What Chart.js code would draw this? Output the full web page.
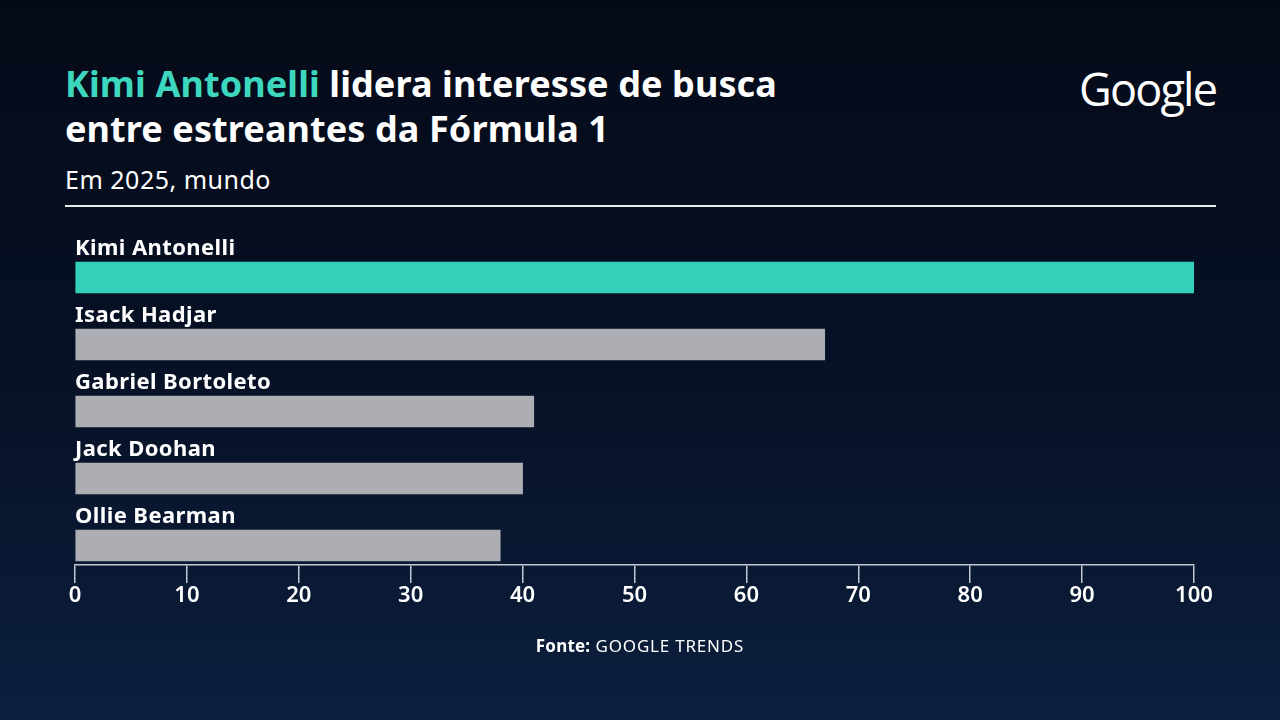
<!DOCTYPE html>
<html lang="pt-BR">
<head>
<meta charset="utf-8">
<title>Estreantes da Fórmula 1</title>
<script src="https://cdn.jsdelivr.net/npm/chart.js@4.4.1/dist/chart.umd.min.js"></script>
<style>
  html, body { margin: 0; padding: 0; }
  body {
    width: 1280px; height: 720px; overflow: hidden; position: relative;
    background: linear-gradient(180deg, #050a17 0%, #071227 55%, #0c1f3e 100%);
    font-family: "Noto Sans", sans-serif; color: #fff;
  }
  .title {
    position: absolute; left: 65px; top: 61px; margin: 0;
    font-size: 36px; font-weight: 700; line-height: 45px; letter-spacing: 0.1px;
  }
  .title .hl { color: #3dd7bf; }
  .subtitle { position: absolute; left: 65px; top: 162px; font-size: 25px; letter-spacing: 0.5px; }
  .rule { position: absolute; left: 65px; top: 205px; width: 1151px; height: 1.5px; background: #e6e8ec; }
  .logo {
    position: absolute; left: 1079px; top: 58px; font-family: "Open Sans", sans-serif;
    font-size: 45px; font-weight: 500; letter-spacing: -1.8px;
  }
  .source { position: absolute; left: 0; width: 1280px; top: 634px; text-align: center; font-size: 17px; letter-spacing: 0.8px; }
  .source b { font-weight: 700; letter-spacing: 0.2px; }
  #chart { position: absolute; left: 0; top: 0; }
</style>
</head>
<body>
<h1 class="title"><span class="hl">Kimi Antonelli</span> lidera interesse de busca<br>entre estreantes da Fórmula 1</h1>
<div class="subtitle">Em 2025, mundo</div>
<div class="rule"></div>
<div class="logo">Google</div>
<canvas id="chart" width="1280" height="720"></canvas>
<div class="source"><b>Fonte:</b> GOOGLE TRENDS</div>

<script>
// valores de interesse (Google Trends, 2025)
const drivers = ['Kimi Antonelli', 'Isack Hadjar', 'Gabriel Bortoleto', 'Jack Doohan', 'Ollie Bearman'];
const interest = [100, 67, 41, 40, 38];
const barColors = ['#33d1b9', '#adaeb3', '#adaeb3', '#adaeb3', '#adaeb3'];
const xTicks = [0, 10, 20, 30, 40, 50, 60, 70, 80, 90, 100];

// nome do piloto acima de cada barra
const nameLabels = {
    id: 'nameLabels',
    afterDatasetsDraw(chart) {
        const ctx = chart.ctx;
        const meta = chart.getDatasetMeta(0);
        ctx.save();
        ctx.fillStyle = '#ffffff';
        ctx.font = '700 22px "Noto Sans", sans-serif';
        ctx.letterSpacing = '0.4px';
        ctx.textAlign = 'left';
        ctx.textBaseline = 'middle';
        meta.data.forEach((bar, i) => {
            const top = bar.y - bar.height / 2;
            ctx.fillText(drivers[i], chart.chartArea.left, top - 13);
        });
        ctx.restore();
    }
};

new Chart(document.getElementById('chart'), {
    type: 'bar',
    data: {
        datasets: [{
            data: interest.map((v, i) => ({ x: v, y: i })),
            backgroundColor: barColors,
            borderWidth: 0,
            barThickness: 31
        }]
    },
    options: {
        indexAxis: 'y',
        responsive: false,
        animation: false,
        layout: { padding: { left: 75, right: 86, top: 230, bottom: 105 } },
        plugins: { legend: { display: false }, tooltip: { enabled: false } },
        scales: {
            y: { type: 'linear', display: false, offset: false, reverse: true, min: -0.709, max: 4.291 },
            x: {
                type: 'linear', min: 0, max: 100,
                afterBuildTicks: s => { s.ticks = xTicks.map(v => ({ value: v })); },
                afterFit: s => { s.height = 50; },
                grid: { drawOnChartArea: false, tickLength: 18, color: '#c3c8d2', lineWidth: 1.5 },
                border: { display: true, color: '#c3c8d2', width: 1.5 },
                ticks: { color: '#ffffff', padding: 0, font: { family: '"Noto Sans", sans-serif', size: 22, weight: '600' } }
            }
        }
    },
    plugins: [nameLabels]
});
</script>
</body>
</html>
